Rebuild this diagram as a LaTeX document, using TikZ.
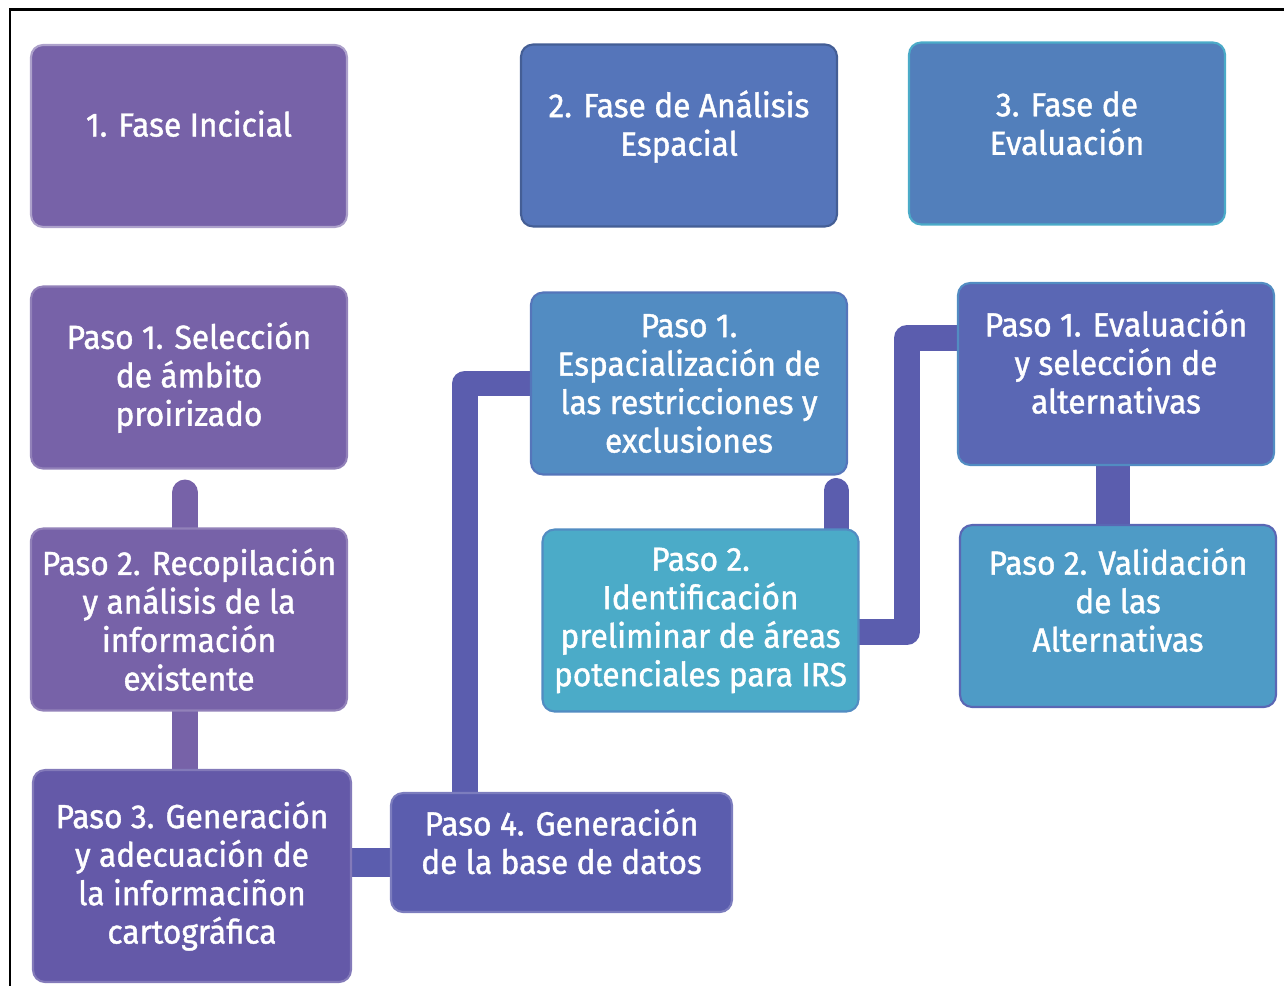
\documentclass[tikz,border=0pt]{standalone}
\usepackage{fontspec}
\setmainfont{Fira Sans}[FakeStretch=0.95,FakeBold=1.2]
\usepackage{xcolor}
\usetikzlibrary{positioning,calc,backgrounds}
\definecolor{fsPurple}{HTML}{7762A8}
\definecolor{fsIndigo}{HTML}{6459A8}
\definecolor{fsViolet}{HTML}{5B5DAE}
\definecolor{fsBlue}{HTML}{5575BA}
\definecolor{fsSteel}{HTML}{527FBB}
\definecolor{fsSky}{HTML}{528CC2}
\definecolor{fsTeal}{HTML}{4BABC8}
\definecolor{fsCyan}{HTML}{4E9BC6}
\definecolor{fsRoyal}{HTML}{5A67B4}
\tikzset{
  paso box/.style={rounded corners=0.24cm,line width=1.2pt,inner sep=0pt,
    minimum width=6.32cm,minimum height=3.64cm,text=white,align=center,
    font=\fontsize{19}{21.9}\selectfont},
  fase box/.style={paso box,text depth=0.5cm},
  link/.style={line width=0.52cm,line cap=round,line join=round,draw=fsViolet}
}

\begin{document}
\begin{tikzpicture}[x=0.02cm,y=-0.02cm]
\useasboundingbox (0,0) rectangle (1284,986);
\draw[line width=0.06cm] (10,986) -- (10,10) -- (1284,10);
% fases
\node[fase box,fill=fsPurple,draw=fsPurple!60!white] (f1) at (189,136) {1. Fase Incicial};
\node[fase box,fill=fsBlue,draw=fsBlue!80!black] (f2) at (679,135.5) {2. Fase de Análisis\\Espacial};
\node[fase box,fill=fsSteel,draw=fsTeal,text depth=0.42cm] (f3) at (1067,133.5) {3. Fase de\\Evaluación};
% pasos, fase inicial
\node[paso box,fill=fsPurple,draw=fsPurple!80!white] (i1) at (189,377.5) {Paso 1. Selección\\de ámbito\\proirizado};
\node[paso box,fill=fsPurple,draw=fsPurple!80!white] (i2) at (189,619.5) {Paso 2. Recopilación\\y análisis de la\\información\\existente};
\node[paso box,fill=fsIndigo,draw=fsIndigo!80!white,minimum width=6.36cm,minimum height=4.24cm] (i3) at (192,876) {Paso 3. Generación\\y adecuación de\\la informaciñon\\cartográfica};
\node[paso box,fill=fsViolet,draw=fsViolet!80!white,minimum width=6.82cm,minimum height=2.38cm,text depth=0.45cm] (i4) at (561.5,852.5) {Paso 4. Generación\\de la base de datos};
% pasos, analisis espacial
\node[paso box,fill=fsSky,draw=fsBlue] (a1) at (689,383.5) {Paso 1.\\Espacialización de\\las restricciones y\\exclusiones};
\node[paso box,fill=fsTeal,draw=fsSky] (a2) at (700.5,620.5) {Paso 2.\\Identificación\\preliminar de áreas\\potenciales para IRS};
% pasos, evaluacion
\node[paso box,fill=fsRoyal,draw=fsSky,text depth=0.5cm] (e1) at (1116,374) {Paso 1. Evaluación\\y selección de\\alternativas};
\node[paso box,fill=fsCyan,draw=fsRoyal,text depth=0.65cm] (e2) at (1118,616) {Paso 2. Validación\\de las\\Alternativas};
% guides for the bars
\coordinate (xa) at (465,0);
\coordinate (xm) at (836,0);
\coordinate (xe) at (907,0);
\coordinate (ya) at (0,632);
\coordinate (ye) at (0,338);
\begin{scope}[on background layer]
\draw[link,draw=fsPurple] ([xshift=-0.08cm,yshift=-0.46cm]i1.south) -- ([xshift=-0.08cm]i2.north);
\draw[link,draw=fsPurple] ([xshift=-0.08cm]i2.south) -- ([xshift=-0.08cm]i2.south |- i3.north);
\draw[link,line width=0.58cm] ([yshift=-0.19cm]i4.west) -- ([yshift=-0.19cm]i4.west -| i3.east);
\draw[link] (i4.north -| xa) |- (a1.west);
\draw[link,line width=0.5cm] ([yshift=-0.3cm]a1.south -| xm) -- (a2.north -| xm);
\draw[link] (a2.east |- ya) -| (xe |- ye) -- (e1.west |- ye);
\draw[link,line width=0.68cm] ([xshift=-0.06cm]e1.south) -- ([xshift=-0.06cm]e1.south |- e2.north);
\end{scope}
\end{tikzpicture}
\end{document}
